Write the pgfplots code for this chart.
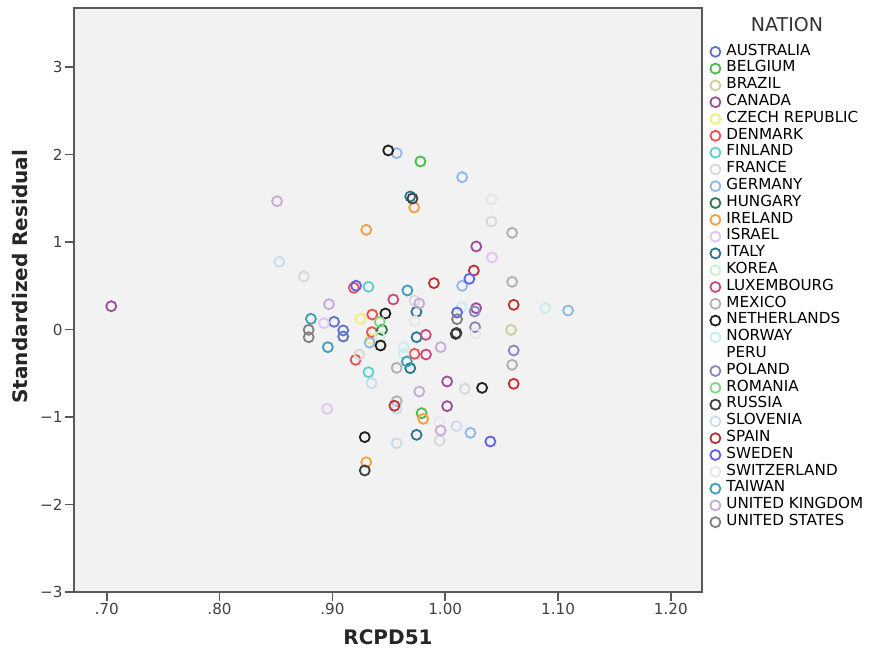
\documentclass[border=0pt]{standalone}
\usepackage{fontspec}
\setmainfont{DejaVu Sans}
\usepackage{pgfplots}
\pgfplotsset{compat=1.18}
\usetikzlibrary{calc}

\definecolor{cAUS}{HTML}{5B74C8}
\definecolor{cBEL}{HTML}{4CBB4C}
\definecolor{cBRA}{HTML}{D6CA9A}
\definecolor{cCAN}{HTML}{9C4C9C}
\definecolor{cCZE}{HTML}{F2EC78}
\definecolor{cDEN}{HTML}{F05050}
\definecolor{cFIN}{HTML}{5ACFD0}
\definecolor{cFRA}{HTML}{D8D8D8}
\definecolor{cGER}{HTML}{8CB8E8}
\definecolor{cHUN}{HTML}{2E7A4E}
\definecolor{cIRE}{HTML}{F5A040}
\definecolor{cISR}{HTML}{E2C4F2}
\definecolor{cITA}{HTML}{2A7890}
\definecolor{cKOR}{HTML}{C8F2C8}
\definecolor{cLUX}{HTML}{C84C80}
\definecolor{cMEX}{HTML}{B0B0B0}
\definecolor{cNED}{HTML}{202020}
\definecolor{cNOR}{HTML}{C6EEEE}
\definecolor{cPOL}{HTML}{8888C0}
\definecolor{cROM}{HTML}{80D880}
\definecolor{cRUS}{HTML}{404040}
\definecolor{cSLO}{HTML}{C8DCF0}
\definecolor{cSPA}{HTML}{C03030}
\definecolor{cSWE}{HTML}{6060F0}
\definecolor{cSWI}{HTML}{E6E6E6}
\definecolor{cTAI}{HTML}{3AA0B8}
\definecolor{cUKI}{HTML}{C8A8D8}
\definecolor{cUSA}{HTML}{808080}

\begin{document}
\begin{tikzpicture}
\begin{axis}[
    name=ax,
    scale only axis,
    width=314pt, height=292pt,
    xmin=0.671, xmax=1.2276,
    ymin=-3, ymax=3.674,
    axis background/.style={fill=black!5},
    axis line style={draw=black!65, line width=0.8pt},
    tick style={draw=black!65, line width=0.8pt},
    tick align=outside, major tick length=4.5pt,
    xtick pos=left, ytick pos=left,
    xtick={0.7,0.8,0.9,1.0,1.1,1.2},
    xticklabels={.70,.80,.90,1.00,1.10,1.20},
    ytick={-3,-2,-1,0,1,2,3},
    yticklabels={−3,−2,−1,0,1,2,3},
    ticklabel style={font=\fontsize{7.6}{8}\selectfont, text=black!75},
    xticklabel style={inner sep=1pt},
    yticklabel style={inner sep=1pt},
    xlabel={RCPD51},
    ylabel={Standardized Residual},
    label style={font=\fontsize{10}{12}\bfseries\selectfont, text=black!85},
    xlabel style={at={(axis description cs:0.5,-0.077)}, anchor=center},
    ylabel style={at={(axis description cs:-0.086,0.54)}, anchor=center},
    clip=false,
    legend image code/.code={\draw[mark repeat=2,mark phase=2,#1] plot coordinates {(0pt,0pt)(4pt,0pt)(8pt,0pt)};},
    legend style={draw=none, fill=none, at={(rel axis cs:1,1)}, anchor=north west,
        xshift=2.5pt, yshift=-17.5pt, inner sep=0pt, row sep=0pt, column sep=0pt,
        font=\fontsize{7.6}{8}\selectfont,
        nodes={inner sep=0pt, inner xsep=3pt, text height=5.8pt, text depth=2.6pt}},
    legend cell align=left,
    pt/.style={only marks, mark=o, mark size=2.5pt, line width=0.9pt, color=#1},
]
\addplot[pt=cAUS] coordinates {(0.9015,0.088)(0.9096,-0.011)(0.9096,-0.08)};
\addlegendentry{AUSTRALIA}
\addplot[pt=cBEL] coordinates {(0.978,1.92)(0.9791,-0.956)};
\addlegendentry{BELGIUM}
\addplot[pt=cBRA] coordinates {(1.0584,-0.004)};
\addlegendentry{BRAZIL}
\addplot[pt=cCAN] coordinates {(0.704,0.266)(1.0017,-0.594)(1.0017,-0.876)(1.0275,0.949)(1.0274,0.244)};
\addlegendentry{CANADA}
\addplot[pt=cCZE] coordinates {(0.925,0.122)(0.934,-0.107)};
\addlegendentry{CZECH REPUBLIC}
\addplot[pt=cDEN] coordinates {(0.919,0.476)(0.9353,0.171)(0.935,-0.03)(0.9206,-0.347)(0.9728,-0.278)};
\addlegendentry{DENMARK}
\addplot[pt=cFIN] coordinates {(0.932,0.488)(0.932,-0.488)};
\addlegendentry{FINLAND}
\addplot[pt=cFRA] coordinates {(0.8747,0.605)(0.9728,0.331)(0.924,-0.286)(0.995,-1.27)(1.041,1.234)(1.0174,-0.678)};
\addlegendentry{FRANCE}
\addplot[pt=cGER] coordinates {(0.957,2.015)(1.015,1.741)(1.015,0.499)(1.1089,0.217)(1.0224,-1.181)(0.933,-0.15)};
\addlegendentry{GERMANY}
\addplot[pt=cHUN] coordinates {(0.944,-0.004)};
\addlegendentry{HUNGARY}
\addplot[pt=cIRE] coordinates {(0.9725,1.394)(0.930,1.139)(0.9805,-1.021)(0.930,-1.517)};
\addlegendentry{IRELAND}
\addplot[pt=cISR] coordinates {(0.8925,0.072)(0.8954,-0.907)(1.0415,0.823)};
\addlegendentry{ISRAEL}
\addplot[pt=cITA] coordinates {(0.969,1.52)(0.9745,0.202)(0.9746,-0.088)(0.969,-0.442)(0.9746,-1.204)};
\addlegendentry{ITALY}
\addplot[pt=cKOR] coordinates {(0.942,-0.08)};
\addlegendentry{KOREA}
\addplot[pt=cLUX] coordinates {(0.954,0.343)(0.9828,-0.061)(0.983,-0.286)};
\addlegendentry{LUXEMBOURG}
\addplot[pt=cMEX] coordinates {(0.957,-0.438)(0.957,-0.819)(1.0593,1.105)(1.0593,0.545)(1.0593,-0.404)};
\addlegendentry{MEXICO}
\addplot[pt=cNED] coordinates {(0.9495,2.046)(0.947,0.183)(0.9427,-0.183)(0.9287,-1.23)(1.0094,-0.05)(1.0327,-0.667)};
\addlegendentry{NETHERLANDS}
\addplot[pt=cNOR] coordinates {(0.9633,-0.202)(0.9633,-0.278)(1.0888,0.244)(1.0144,0.255)};
\addlegendentry{NORWAY}
\addlegendimage{legend image code/.code={}}
\addlegendentry{PERU}
\addplot[pt=cPOL] coordinates {(1.026,0.206)(1.0265,0.027)(1.0607,-0.24)};
\addlegendentry{POLAND}
\addplot[pt=cROM] coordinates {(0.942,0.088)};
\addlegendentry{ROMANIA}
\addplot[pt=cRUS] coordinates {(0.971,1.497)(1.010,-0.04)(0.9287,-1.611)};
\addlegendentry{RUSSIA}
\addplot[pt=cSLO] coordinates {(0.853,0.774)(0.9347,-0.614)(0.957,-0.907)(0.957,-1.3)(1.010,-1.105)};
\addlegendentry{SLOVENIA}
\addplot[pt=cSPA] coordinates {(0.990,0.53)(0.955,-0.872)(1.0254,0.674)(1.0607,0.282)(1.0607,-0.621)};
\addlegendentry{SPAIN}
\addplot[pt=cSWE] coordinates {(0.921,0.50)(1.0214,0.579)(1.0105,0.194)(1.040,-1.28)};
\addlegendentry{SWEDEN}
\addplot[pt=cSWI] coordinates {(0.9728,0.095)(0.9946,-1.059)(1.041,1.486)(1.0268,-0.046)};
\addlegendentry{SWITZERLAND}
\addplot[pt=cTAI] coordinates {(0.9665,0.446)(0.881,0.122)(0.896,-0.202)(0.966,-0.366)};
\addlegendentry{TAIWAN}
\addplot[pt=cUKI] coordinates {(0.851,1.466)(0.897,0.289)(0.977,0.297)(0.996,-0.202)(0.977,-0.709)(0.996,-1.154)};
\addlegendentry{UNITED KINGDOM}
\addplot[pt=cUSA] coordinates {(0.879,-0.004)(0.879,-0.088)(1.0105,0.118)};
\addlegendentry{UNITED STATES}
\end{axis}
\node[font=\fontsize{9.5}{11}\selectfont, text=black!80] at ($(ax.north east)+(42.5pt,-8.5pt)$) {NATION};
\pgfresetboundingbox
\path[use as bounding box] ($(ax.south west)+(-37pt,-31pt)$) rectangle ($(ax.north east)+(85pt,4pt)$);
\end{tikzpicture}
\end{document}
